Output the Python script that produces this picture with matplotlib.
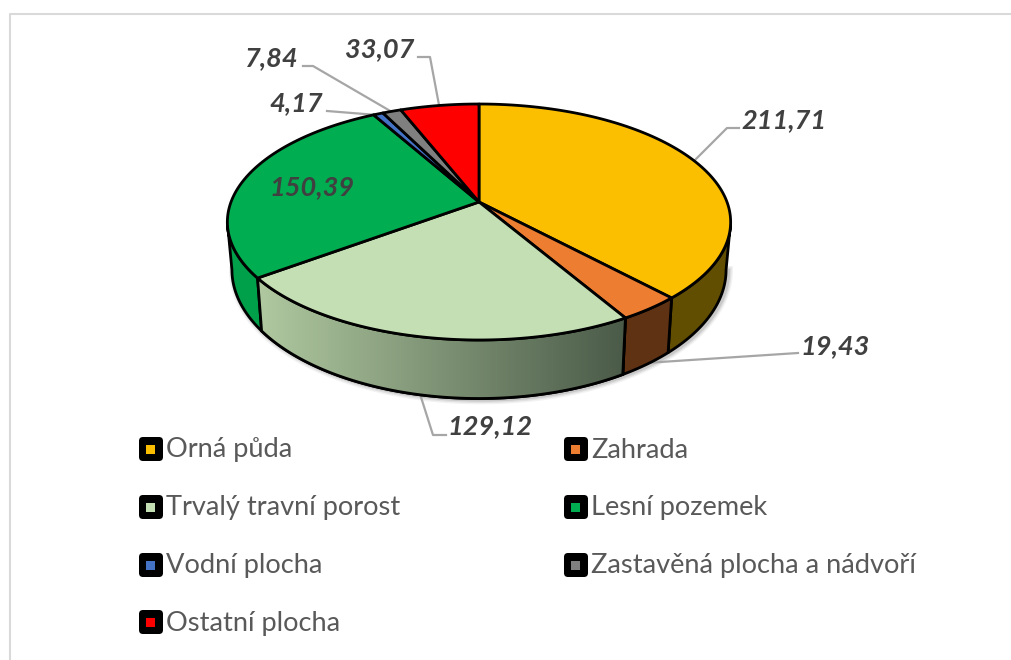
import numpy as np
import matplotlib
matplotlib.use('Agg')
import matplotlib.pyplot as plt
from matplotlib.colors import LinearSegmentedColormap
from matplotlib.patches import FancyBboxPatch, Polygon, Rectangle

plt.rcParams['font.family'] = ['Lato', 'DejaVu Sans']

categories = ['Orná půda', 'Zahrada', 'Trvalý travní porost', 'Lesní pozemek',
              'Vodní plocha', 'Zastavěná plocha a nádvoří', 'Ostatní plocha']
values = [211.71, 19.43, 129.12, 150.39, 4.17, 7.84, 33.07]
value_labels = ['211,71', '19,43', '129,12', '150,39', '4,17', '7,84', '33,07']
colors = ['#FCBF00', '#ED7D31', '#C5DFB4', '#00AD50', '#4472C4', '#7F7F7F', '#FF0000']
wall_colors = ['#624E00', '#5F3214', None, '#009F4A', None, None, None]

# perspective of the pie, fitted on the picture (pixels)
cx, cy = 479, 202
K = 0.1695


def top_rim(a):
    d = 1 + K * np.cos(a)
    return cx + 248 * np.sin(a) / d, cy - 114.6 * np.cos(a) / d


def bottom_rim(a):
    d = 1 + K * np.cos(a)
    return cx + 243.5 * np.sin(a) / d, 248 - 125 * np.cos(a) / d


fig = plt.figure(figsize=(10.12, 6.6), dpi=100)
ax = fig.add_axes([0, 0, 1, 1])
ax.axis('off')

# chart frame
ax.plot([10, 10, 1012], [660, 14, 14], color='#D9D9D9', lw=1.5, zorder=1)

edges = np.concatenate([[0], np.cumsum(values)]) / sum(values) * 2 * np.pi
limit_r = np.arccos(-K)
limit_l = 2 * np.pi - limit_r

# soft shadow under the walls
sx, sy = bottom_rim(np.linspace(limit_r, limit_l, 300))
for w, al in [(7, 0.05), (5, 0.07), (3, 0.10)]:
    ax.plot(sx + 2, sy + 1, color='black', alpha=al, lw=w, zorder=2)

# walls
for i in range(len(values)):
    a0 = max(edges[i], limit_r)
    a1 = min(edges[i + 1], limit_l)
    if a1 <= a0:
        continue
    a = np.linspace(a0, a1, 80)
    tx, ty = top_rim(a)
    bx, by = bottom_rim(a)
    pts = np.r_[np.c_[tx, ty], np.c_[bx, by][::-1]]
    poly = Polygon(pts, closed=True, fc=wall_colors[i] or colors[i], ec='black', lw=2,
                   joinstyle='round', zorder=3)
    ax.add_patch(poly)
    if i == 2:
        # lit from the left, dark towards the right
        grad = np.linspace(0, 1, 256).reshape(1, -1)
        cmap = LinearSegmentedColormap.from_list('w', ['#B0C9A0', '#4A5A48'])
        im = ax.imshow(grad, extent=[tx.min(), tx.max(), by.max(), ty.min()], cmap=cmap,
                       aspect='auto', zorder=3.1)
        im.set_clip_path(poly)
        ax.add_patch(Polygon(pts, closed=True, fc='none', ec='black', lw=2, zorder=3.2))

# top face
for i in range(len(values)):
    a = np.linspace(edges[i], edges[i + 1], 120)
    x, y = top_rim(a)
    pts = np.r_[[[cx, cy]], np.c_[x, y]]
    ax.add_patch(Polygon(pts, closed=True, fc=colors[i], ec='black', lw=2,
                         joinstyle='round', zorder=4))

# leader lines
leaders = [
    ([694, 727, 739], [161, 128, 128]),
    ([645, 798], [363, 353]),
    ([420, 433, 446], [394, 435, 435]),
    ([439, 430, 418], [105, 57, 57]),
    ([392, 313, 303], [112, 66, 66]),
    ([377, 327], [115, 111]),
]
for lx, ly in leaders:
    ax.plot(lx, ly, color='#A6A6A6', lw=1.6, zorder=2)

# data labels
label_pos = [(784, 120), (835, 346), (490, 426), (312, 187), (296, 103), (272, 58), (380, 49)]
for s, (x, y) in zip(value_labels, label_pos):
    ax.text(x, y, s, fontsize=19.5, fontweight='bold', fontstyle='italic', color='#404040',
            ha='center', va='center', zorder=6)

# legend
legend_x = [151, 576, 151, 576, 151, 576, 151]
legend_y = [449, 449, 507, 507, 565, 565, 622]
for name, col, x, y in zip(categories, colors, legend_x, legend_y):
    ax.add_patch(FancyBboxPatch((x - 9, y - 9), 18, 18, boxstyle='round,pad=3,rounding_size=4',
                                fc='black', ec='none', zorder=5))
    ax.add_patch(Rectangle((x - 4.5, y - 4.5), 9, 9, fc=col, ec='none', zorder=6))
    ax.text(x + 15, y + 1, name, fontsize=19.6, color='#595959', ha='left', va='center', zorder=6)

ax.set_xlim(0, 1012)
ax.set_ylim(660, 0)
fig.savefig('out.png', dpi=100)
